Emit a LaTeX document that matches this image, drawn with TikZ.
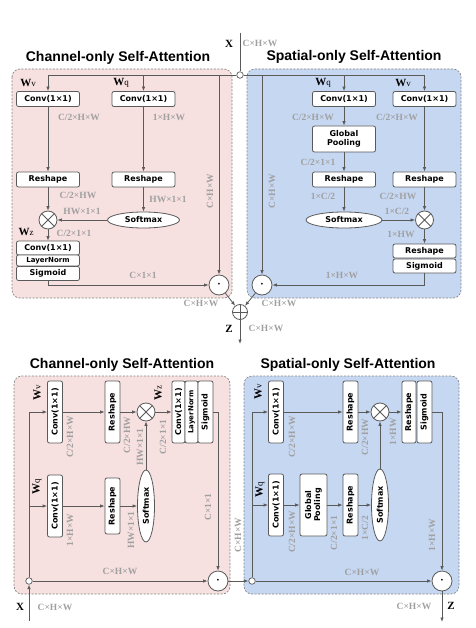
\documentclass[tikz,border=0pt]{standalone}
\usepackage{fontspec}
\setmainfont{Liberation Serif}
\setsansfont{Liberation Sans}
\newfontfamily\boxfont{DejaVu Sans}
\usepackage{tikz}
\usetikzlibrary{arrows.meta,shapes.geometric}
\definecolor{pinkbg}{HTML}{F7E0E0}
\definecolor{bluebg}{HTML}{C6D7F2}
\definecolor{lineg}{HTML}{5A5A5A}
\definecolor{dimg}{HTML}{A0A0A0}
\definecolor{frameg}{HTML}{858585}
\newcommand{\wmat}[1]{\textbf{W}{\fontsize{9}{9}\selectfont #1}}

\begin{document}
\begin{tikzpicture}[x=1pt,y=-1pt,>={Latex[length=4.5pt,width=3.5pt]},
  blk/.style={draw=lineg,fill=white,rounded corners=2pt,line width=0.8pt,inner sep=1pt,
    font=\boxfont\bfseries\fontsize{8}{9}\selectfont,minimum width=63pt,minimum height=15pt},
  vblk/.style={blk,rotate=90,minimum width=62pt},
  sm/.style={ellipse,draw=lineg,fill=white,line width=0.8pt,inner sep=0pt,
    font=\boxfont\bfseries\fontsize{8}{9}\selectfont,minimum width=72pt,minimum height=16pt},
  dim/.style={text=dimg,font=\bfseries\fontsize{9.5}{10}\selectfont,inner sep=1pt},
  vdim/.style={dim,rotate=90},
  wlab/.style={font=\fontsize{11}{12}\selectfont,inner sep=0pt},
  ttl/.style={font=\sffamily\bfseries\fontsize{14}{16}\selectfont},
  panel/.style={draw=frameg,line width=0.7pt,dash pattern=on 2pt off 1.5pt,rounded corners=8pt},
  mul/.style={circle,draw=lineg,fill=white,line width=0.8pt,minimum size=18pt,inner sep=0pt,
    path picture={\draw[lineg,line width=0.8pt] (path picture bounding box.north west)--(path picture bounding box.south east)
      (path picture bounding box.north east)--(path picture bounding box.south west);}},
  add/.style={circle,draw=lineg,fill=white,line width=0.8pt,minimum size=15pt,inner sep=0pt,
    path picture={\draw[lineg,line width=0.8pt] (path picture bounding box.north)--(path picture bounding box.south)
      (path picture bounding box.east)--(path picture bounding box.west);}},
  prod/.style={circle,draw=lineg,fill=white,line width=0.8pt,minimum size=20pt,inner sep=0pt,
    font=\fontsize{16}{16}\selectfont},
  joint/.style={circle,draw=lineg,fill=white,line width=0.7pt,minimum size=6.5pt,inner sep=0pt},
  flow/.style={draw=lineg,line width=0.8pt,->}]
\useasboundingbox (0,0) rectangle (475,628);

% ---------- parallel layout ----------
\draw[panel,fill=pinkbg] (12,69) rectangle (232,298);
\draw[panel,fill=bluebg] (247,69) rectangle (461,298);
\node[ttl] (t1) at (118,58) {Channel-only Self-Attention};
\node[ttl] (t2) at (354,57) {Spatial-only Self-Attention};

\coordinate (xin) at (240,33);
\node[joint] (jt) at (240,75) {};
\node[wlab] (xl) at (229,44) {\textbf{X}};
\node[dim] (xd) at (260,43) {C×H×W};

% channel branch
\node[wlab] (wv1) at (28,83) {\wmat{v}};
\node[wlab] (wq1) at (121,83) {\wmat{q}};
\node[blk] (cv1) at (48,99) {Conv(1×1)};
\node[blk] (cq1) at (143.5,99) {Conv(1×1)};
\node[dim] (d1) at (79,117) {C/2×H×W};
\node[dim] (d2) at (169,117) {1×H×W};
\node[blk] (rv1) at (48,179.5) {Reshape};
\node[blk] (rq1) at (143.5,179.5) {Reshape};
\node[dim] (d3) at (78,195) {C/2×HW};
\node[dim] (d4) at (168,199) {HW×1×1};
\node[mul] (ml1) at (48,220) {};
\node[sm] (sm1) at (143.5,220) {Softmax};
\node[dim] (d5) at (82,211) {HW×1×1};
\node[wlab] (wz1) at (26,232) {\wmat{z}};
\node[dim] (d6) at (74,233) {C/2×1×1};
\node[blk,minimum height=14pt] (cz1) at (48,248) {Conv(1×1)};
\node[blk,minimum height=11pt,font=\boxfont\bfseries\fontsize{7}{8}\selectfont] (ln1) at (48,260.5) {LayerNorm};
\node[blk,minimum height=14pt] (sg1) at (48,273.5) {Sigmoid};
\node[prod] (pd1) at (219,285) {$\cdot$};
\node[dim] (d7) at (143,275) {C×1×1};
\node[vdim] (d8) at (210,191) {C×H×W};

% spatial branch
\node[wlab] (wq2) at (323,83) {\wmat{q}};
\node[wlab] (wv2) at (403,83) {\wmat{v}};
\node[blk] (cq2) at (344,99) {Conv(1×1)};
\node[blk] (cv2) at (424.5,99) {Conv(1×1)};
\node[dim] (d9) at (313,117) {C/2×H×W};
\node[dim] (d10) at (397,117) {C/2×H×W};
\node[blk,minimum height=26pt,align=center] (gp2) at (344,139) {Global\\Pooling};
\node[dim] (d11) at (318,162) {C/2×1×1};
\node[blk] (rq2) at (344,179.5) {Reshape};
\node[blk] (rv2) at (424.5,179.5) {Reshape};
\node[dim] (d12) at (323,196) {1×C/2};
\node[dim] (d13) at (398,196) {C/2×HW};
\node[sm,minimum width=76pt] (sm2) at (344,220) {Softmax};
\node[mul] (ml2) at (424.5,220) {};
\node[dim] (d14) at (397,211) {1×C/2};
\node[dim] (d15) at (401,234) {1×HW};
\node[blk,minimum height=14pt] (rs2) at (424.5,251) {Reshape};
\node[blk,minimum height=14pt] (sg2) at (424.5,266) {Sigmoid};
\node[prod] (pd2) at (262,285) {$\cdot$};
\node[dim] (d16) at (342,275) {1×H×W};
\node[vdim] (d17) at (272,191) {C×H×W};

\node[add] (ad) at (240,312) {};
\node[dim] (d18) at (201,303) {C×H×W};
\node[dim] (d19) at (279,303) {C×H×W};
\node[wlab] (zl) at (229,329) {\textbf{Z}};
\node[dim] (d20) at (266,328) {C×H×W};
\coordinate (zout) at (240,344);

\draw[lineg,line width=0.8pt] (xin) -- (jt);
\draw[flow] (jt) -| (cv1); \draw[flow] (jt) -| (cq1); \draw[flow] (jt) -| (pd1);
\draw[flow] (jt) -| (cq2); \draw[flow] (jt) -| (cv2); \draw[flow] (jt) -| (pd2);
\draw[flow] (cv1) -- (rv1); \draw[flow] (rv1) -- (ml1); \draw[flow] (ml1) -- (cz1);
\draw[flow] (cq1) -- (rq1); \draw[flow] (rq1) -- (sm1); \draw[flow] (sm1) -- (ml1);
\draw[flow] (sg1) |- (pd1);
\draw[flow] (cq2) -- (gp2); \draw[flow] (gp2) -- (rq2); \draw[flow] (rq2) -- (sm2);
\draw[flow] (cv2) -- (rv2); \draw[flow] (rv2) -- (ml2); \draw[flow] (sm2) -- (ml2);
\draw[flow] (ml2) -- (rs2); \draw[flow] (sg2) |- (pd2);
\draw[flow] (pd1) -- (ad); \draw[flow] (pd2) -- (ad); \draw[flow] (ad) -- (zout);

% ---------- sequential layout ----------
\draw[panel,fill=pinkbg] (14,376) rectangle (230,594);
\draw[panel,fill=bluebg] (244,376) rectangle (459,594);
\node[ttl] (t3) at (122,365) {Channel-only Self-Attention};
\node[ttl] (t4) at (348,365) {Spatial-only Self-Attention};

\coordinate (xin2) at (29,621);
\node[joint] (jb1) at (29,581) {};
\node[wlab] (xl2) at (20,607) {\textbf{X}};
\node[dim] (xd2) at (55,607) {C×H×W};

% channel block
\node[wlab,rotate=90] (bwv1) at (37,393) {\wmat{v}};
\node[vblk] (bcv1) at (55,412) {Conv(1×1)};
\node[vdim] (e1) at (70,437) {C/2×H×W};
\node[vblk] (brv1) at (112.5,412) {Reshape};
\node[mul] (bml1) at (146,412) {};
\node[vdim] (e2) at (127,435) {C/2×HW};
\node[vdim] (e3) at (140,447) {HW×1×1};
\node[wlab,rotate=90] (bwz1) at (158,393) {\wmat{z}};
\node[vdim] (e4) at (163,437) {C/2×1×1};
\node[vblk,minimum height=13pt] (bcz1) at (178.5,412) {Conv(1×1)};
\node[vblk,minimum height=13pt,font=\boxfont\bfseries\fontsize{7}{8}\selectfont] (bln1) at (191.5,412) {LayerNorm};
\node[vblk,minimum height=15pt] (bsg1) at (205.5,412) {Sigmoid};
\node[vdim] (e5) at (208,507) {C×1×1};
\node[wlab,rotate=90] (bwq1) at (37,487) {\wmat{q}};
\node[vblk] (bcq1) at (55,506) {Conv(1×1)};
\node[vdim] (e6) at (70,530) {1×H×W};
\node[vblk,minimum width=56pt] (brq1) at (112.5,506) {Reshape};
\node[sm,rotate=90,minimum height=17pt] (bsm1) at (146,506) {Softmax};
\node[vdim] (e7) at (131,530) {HW×1×1};
\node[prod] (bpd1) at (218,581) {$\cdot$};
\node[dim] (e8) at (120,571) {C×H×W};

% spatial block
\node[joint] (jb2) at (252,581) {};
\node[vdim] (e9) at (238,535) {C×H×W};
\node[wlab,rotate=90] (bwv2) at (258,392) {\wmat{v}};
\node[vblk] (bcv2) at (276,412) {Conv(1×1)};
\node[vdim] (e10) at (292,437) {C/2×H×W};
\node[vblk] (brv2) at (350.5,412) {Reshape};
\node[mul] (bml2) at (380,412) {};
\node[vdim] (e11) at (365,437) {C/2×HW};
\node[vdim] (e12) at (393,432) {1×HW};
\node[vblk,minimum height=14pt] (brs2) at (409,412) {Reshape};
\node[vblk,minimum height=15pt] (bsg2) at (424.5,412) {Sigmoid};
\node[vdim] (e13) at (432,535) {1×H×W};
\node[wlab,rotate=90] (bwq2) at (260,490) {\wmat{q}};
\node[vblk] (bcq2) at (276,505) {Conv(1×1)};
\node[vdim] (e14) at (292,532) {C/2×H×W};
\node[vblk,minimum height=27pt,align=center] (bgp2) at (313.5,505) {Global\\Pooling};
\node[vdim] (e15) at (334,533) {C/2×1×1};
\node[vblk] (brq2) at (350.5,505) {Reshape};
\node[vdim] (e16) at (365,528) {1×C/2};
\node[sm,rotate=90,minimum height=17pt] (bsm2) at (380,505) {Softmax};
\node[prod] (bpd2) at (442,581) {$\cdot$};
\node[dim] (e17) at (362,572) {C×H×W};
\node[wlab] (zl2) at (451,606) {\textbf{Z}};
\node[dim] (e18) at (414,606) {C×H×W};
\coordinate (zout2) at (442,622);

\draw[flow] (xin2) -- (jb1);
\draw[flow] (jb1) |- (bcv1); \draw[flow] (jb1) |- (bcq1); \draw[flow] (jb1) -- (bpd1);
\draw[flow] (bcv1) -- (brv1); \draw[flow] (brv1) -- (bml1); \draw[flow] (bml1) -- (bcz1);
\draw[flow] (bcq1) -- (brq1); \draw[flow] (brq1) -- (bsm1); \draw[flow] (bsm1) -- (bml1);
\draw[flow] (bsg1) -| (bpd1);
\draw[flow] (bpd1) -- (jb2);
\draw[flow] (jb2) |- (bcv2); \draw[flow] (jb2) |- (bcq2); \draw[flow] (jb2) -- (bpd2);
\draw[flow] (bcv2) -- (brv2); \draw[flow] (brv2) -- (bml2); \draw[flow] (bml2) -- (brs2);
\draw[flow] (bcq2) -- (bgp2); \draw[flow] (bgp2) -- (brq2); \draw[flow] (brq2) -- (bsm2);
\draw[flow] (bsm2) -- (bml2); \draw[flow] (bsg2) -| (bpd2);
\draw[flow] (bpd2) -- (zout2);
\end{tikzpicture}
\end{document}
